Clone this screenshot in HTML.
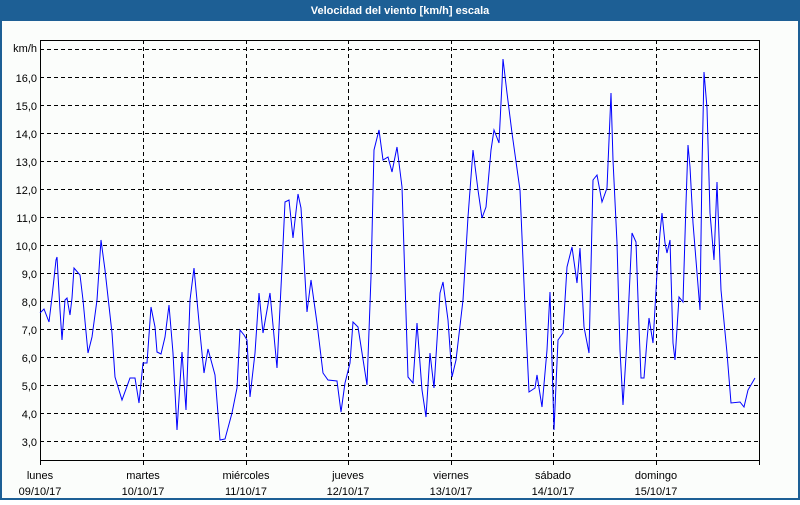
<!DOCTYPE html>
<html><head><meta charset="utf-8"><style>
html,body{margin:0;padding:0;}
body{width:800px;height:500px;overflow:hidden;background:#fff;font-family:"Liberation Sans",sans-serif;}
</style></head><body>
<svg width="800" height="500" xmlns="http://www.w3.org/2000/svg" font-family="Liberation Sans, sans-serif" font-size="11">
<rect x="0" y="0" width="800" height="500" fill="#1d5f95"/>
<rect x="2" y="21" width="796" height="477" fill="#fbfdfb"/>
<text x="400" y="14" fill="#fff" font-weight="bold" text-anchor="middle">Velocidad del viento [km/h] escala</text>
<g stroke="#000" stroke-width="1" stroke-dasharray="4,3" fill="none">
<path d="M40 49.5H760M40 77.5H760M40 105.5H760M40 133.5H760M40 161.5H760M40 189.5H760M40 217.5H760M40 245.5H760M40 273.5H760M40 301.5H760M40 329.5H760M40 357.5H760M40 385.5H760M40 413.5H760M40 441.5H760"/>
<path d="M143.5 40V460M246.5 40V460M348.5 40V460M451.5 40V460M553.5 40V460M656.5 40V460"/>
</g>
<rect x="40.5" y="40.5" width="719" height="420" fill="none" stroke="#000"/>
<path d="M40.5 460V465M143.5 460V465M246.5 460V465M348.5 460V465M451.5 460V465M553.5 460V465M656.5 460V465M759.5 460V465" stroke="#000"/>
<g fill="#000" text-anchor="end">
<text x="37" y="52">km/h</text>
<text x="37" y="82">16,0</text><text x="37" y="110">15,0</text><text x="37" y="138">14,0</text>
<text x="37" y="166">13,0</text><text x="37" y="194">12,0</text><text x="37" y="222">11,0</text>
<text x="37" y="250">10,0</text><text x="37" y="278">9,0</text><text x="37" y="306">8,0</text>
<text x="37" y="334">7,0</text><text x="37" y="362">6,0</text><text x="37" y="390">5,0</text>
<text x="37" y="418">4,0</text><text x="37" y="446">3,0</text>
</g>
<g fill="#000" text-anchor="middle">
<text x="40" y="479">lunes</text><text x="40" y="495">09/10/17</text>
<text x="143" y="479">martes</text><text x="143" y="495">10/10/17</text>
<text x="246" y="479">miércoles</text><text x="246" y="495">11/10/17</text>
<text x="348" y="479">jueves</text><text x="348" y="495">12/10/17</text>
<text x="451" y="479">viernes</text><text x="451" y="495">13/10/17</text>
<text x="553" y="479">sábado</text><text x="553" y="495">14/10/17</text>
<text x="656" y="479">domingo</text><text x="656" y="495">15/10/17</text>
</g>
<polyline fill="none" stroke="#0000ff" stroke-width="1" points="40,313 44,309 49,322 52,297 56,260 57,257 60,310 62,340 65,300 67,298 70,315 72,298 74,268 80,275 83,300 88,353 92,337 97,300 101,240 105,270 112,333 115,377 122,400 130,378 135,378 139,403 143,363 147,363 151,307 155,327 157,352 161,354 165,337 169,305 173,353 177,430 182,352 186,410 190,300 194,268 200,333 204,373 208,349 215,375 220,440 225,439 232,413 237,388 240,330 244,335 247,340 250,397 255,353 259,293 263,333 270,293 277,368 282,267 285,202 289,200 293,238 298,194 301,208 307,312 311,280 317,323 323,373 328,380 337,381 341,412 345,383 350,363 353,322 358,327 367,385 371,277 374,150 379,130 383,160 388,157 392,172 397,147 402,187 408,377 413,383 417,323 422,390 426,417 430,353 434,388 440,293 443,282 448,320 452,377 456,360 463,300 468,217 473,150 478,190 482,218 486,207 491,150 494,130 499,143 502,83 503,59 507,93 512,133 520,190 525,307 529,392 535,388 537,375 542,407 547,350 550,292 554,430 558,340 563,333 567,267 572,247 577,283 580,248 584,327 589,353 593,180 597,175 602,202 607,188 611,93 613,160 617,243 620,350 623,405 627,340 632,233 636,242 639,327 641,378 644,378 647,340 649,318 653,343 657,273 660,233 662,213 665,243 667,253 670,240 673,343 675,360 679,297 683,302 686,203 688,145 690,167 693,223 700,310 702,167 704,72 707,108 710,213 714,260 717,182 721,290 727,353 731,403 740,402 744,407 748,390 755,378"/>
</svg>
</body></html>
